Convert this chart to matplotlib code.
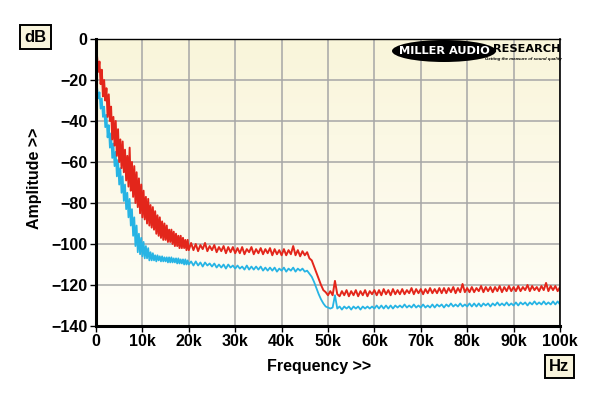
import numpy as np
import matplotlib
matplotlib.use("Agg")
import matplotlib.pyplot as plt
from matplotlib.patches import Ellipse

# ---------------- data (kHz, dB) ----------------
freq_lo = np.arange(1, 81) * 0.25          # 0.25 .. 20 kHz
freq_hi = 20 + np.arange(1, 161) * 0.5     # 20.5 .. 100 kHz

red_lo = [-9, -16, -11, -22, -15, -28, -20, -30, -24, -38,
          -27, -40, -33, -49, -38, -52, -40, -57, -44, -60,
          -49, -63, -50, -65, -54, -69, -57, -72, -53, -74,
          -60, -77, -62, -80, -65, -82, -68, -85, -71, -87,
          -74, -88, -77, -90, -78, -91, -81, -92, -82, -93,
          -84, -95, -86, -96, -87, -97, -89, -98, -90, -98,
          -91, -99, -93, -99, -93, -100, -94, -101, -95, -101,
          -96, -102, -96, -102, -97, -102, -98, -103, -98, -103]
red_hi = [-99.5, -103, -100, -103.5, -100.5, -102.5, -99.5, -103.5, -101, -103,
          -100.5, -104, -101.5, -103.5, -101, -104.5, -101.5, -104, -101.5, -104.5,
          -102, -104.5, -101.5, -105, -102.5, -104, -101.5, -105, -102.5, -104.5,
          -102, -105, -102.5, -104.5, -102, -105.5, -102.5, -105, -103, -105.5,
          -102.5, -105.5, -103, -105, -101, -105.5, -103, -106, -103.5, -105.5,
          -104, -107, -108, -111, -114, -117, -120, -122.5, -123.5, -125,
          -123, -125, -118, -124.5, -125.5, -123, -125, -122.5, -125.5, -123,
          -125, -122.5, -125.5, -123, -125, -122.5, -125.5, -123, -124.5, -122.5,
          -125, -122.5, -125, -122, -124.5, -122.5, -125, -122, -124.5, -122.5,
          -124.5, -122, -124.5, -122.5, -124, -121.5, -124.5, -122, -124, -122,
          -124.5, -122, -124, -121.5, -124, -122, -124, -121.5, -124, -121.5,
          -124, -121.5, -123.5, -121, -124, -121.5, -123.5, -119.5, -123.5, -121.5,
          -123.5, -121, -123.5, -121.5, -123, -120.5, -123.5, -121, -123, -121,
          -123.5, -121, -123, -120.5, -123.5, -121, -123, -120.5, -123, -121,
          -123, -120.5, -123, -121, -122.5, -120, -123, -120.5, -122.5, -121,
          -123, -120.5, -122.5, -119, -123, -120.5, -122.5, -120.5, -123, -121]

cyan_lo = [-24, -29, -26, -34, -29, -38, -33, -43, -37, -48,
           -42, -53, -46, -58, -51, -62, -55, -67, -59, -71,
           -63, -75, -67, -79, -71, -83, -75, -87, -78, -91,
           -83, -96, -87, -101, -91, -104, -95, -105, -97, -106,
           -99, -107, -101, -107, -102, -108, -104, -108, -104.5, -108,
           -105.5, -108.5, -105.5, -108, -106, -108.5, -106, -108.5, -106.5, -108.5,
           -106.5, -109, -106.5, -109, -106.5, -109, -107, -109, -107, -109.5,
           -107, -109.5, -107.5, -109.5, -107.5, -110, -107.5, -110, -108, -110]
cyan_hi = [-108.5, -110.5, -108.5, -110.5, -109, -111, -109, -110.5, -109.5, -111,
           -109.5, -111.5, -110, -111.5, -110, -112, -110, -111.5, -110.5, -112,
           -110.5, -112, -111, -112.5, -110.5, -112.5, -111, -112.5, -111, -112.5,
           -111, -113, -111.5, -113, -111.5, -113, -111.5, -113.5, -112, -113,
           -111.5, -113.5, -112, -113, -111.5, -113.5, -112, -113, -112, -113.5,
           -113, -114.5, -116, -118.5, -121.5, -124.5, -127, -129, -130.5, -131,
           -131.5, -131, -125, -131.5, -130.5, -132, -130.5, -131.5, -130.5, -132,
           -130.5, -131.5, -130.5, -132, -130.5, -131.5, -130.5, -131.5, -130.5, -131.5,
           -130, -131.5, -130, -131.5, -130, -131.5, -130, -131.5, -130, -131,
           -130, -131, -129.5, -131, -130, -131, -129.5, -131, -130, -131,
           -129.5, -131, -130, -131, -129.5, -131, -129.5, -130.5, -129.5, -131,
           -129.5, -130.5, -129, -130.5, -129.5, -130.5, -129, -130.5, -129.5, -130.5,
           -129, -130.5, -129, -130.5, -129, -130.5, -129, -130, -129, -130.5,
           -129, -130, -128.5, -130, -129, -130, -128.5, -130, -129, -130,
           -128.5, -130, -128.5, -129.5, -128.5, -130, -128.5, -129.5, -128, -129.5,
           -128.5, -129.5, -128, -129.5, -128.5, -129.5, -128, -129.5, -128, -129.5]

x_ticks = [0, 10, 20, 30, 40, 50, 60, 70, 80, 90, 100]
x_labels = ["0", "10k", "20k", "30k", "40k", "50k", "60k", "70k", "80k", "90k", "100k"]
y_ticks = [0, -20, -40, -60, -80, -100, -120, -140]

# ---------------- figure ----------------
plt.rcParams['font.family'] = ['Liberation Sans', 'DejaVu Sans']
fig = plt.figure(figsize=(6.0, 3.96), dpi=100)
fig.patch.set_facecolor('white')
ax = fig.add_axes([0.16, 0.1768, 0.7733, 0.7247])

# gradient background
grad = np.linspace(0, 1, 256).reshape(-1, 1)
top = np.array([249, 245, 218]) / 255.0
bot = np.array([255, 254, 248]) / 255.0
img = top[None, None, :] * (1 - grad[:, :, None]) + bot[None, None, :] * grad[:, :, None]
ax.imshow(img, extent=[0, 1, 0, 1], transform=ax.transAxes, aspect='auto', zorder=0)

freq = np.concatenate([freq_lo, freq_hi])
red = np.concatenate([red_lo, red_hi])
cyan = np.concatenate([cyan_lo, cyan_hi])

ax.plot(freq, cyan, color='#27b4e4', lw=1.3, zorder=3)
ax.plot(freq, red, color='#e3261b', lw=1.4, zorder=4)

ax.set_xlim(0, 100)
ax.set_ylim(-140, 0)
ax.set_xticks(x_ticks)
ax.set_xticklabels(x_labels)
ax.set_yticks(y_ticks)
ax.grid(True, color='#a6a6a6', lw=1.1, zorder=1)
ax.set_axisbelow(True)

for lab in ax.get_xticklabels() + ax.get_yticklabels():
    lab.set_fontweight('bold')
    lab.set_fontsize(11.5)
ax.tick_params(axis='both', direction='out', length=4, width=1, color='black', pad=2)

ax.spines['left'].set_linewidth(2.2)
ax.spines['bottom'].set_linewidth(2.2)
ax.spines['top'].set_linewidth(1.0)
ax.spines['right'].set_linewidth(1.2)
for s in ax.spines.values():
    s.set_color('black')
    s.set_zorder(5)

fig.text(35 / 600, 1 - 178 / 396, "Amplitude >>", rotation=90, ha='center', va='center',
         fontsize=11.5, fontweight='bold')
fig.text(319 / 600, 1 - 366 / 396, "Frequency >>", ha='center', va='center',
         fontsize=11.5, fontweight='bold')

box = dict(boxstyle='square,pad=0.25', facecolor='#f8f4dc', edgecolor='black', lw=1.4)
fig.text(35.5 / 600, 1 - 37 / 396, "dB", ha='center', va='center', fontsize=12,
         fontweight='bold', bbox=box)
fig.text(559.5 / 600, 1 - 366.5 / 396, "Hz", ha='center', va='center', fontsize=12,
         fontweight='bold', bbox=box)

# logo
ell = Ellipse((444 / 600, 1 - 51 / 396), 104 / 600, 22 / 396, transform=fig.transFigure,
              facecolor='black', edgecolor='none', zorder=6)
fig.patches.append(ell)
fig.text(444 / 600, 1 - 50.5 / 396, "MILLER AUDIO", ha='center', va='center', color='white',
         fontsize=8.2, fontweight='heavy', family='DejaVu Sans', zorder=7)
fig.text(527 / 600, 1 - 49 / 396, "RESEARCH", ha='center', va='center', color='black',
         fontsize=8.2, fontweight='heavy', family='DejaVu Sans', zorder=7)
fig.text(523 / 600, 1 - 59 / 396, "Getting the measure of sound quality", ha='center',
         va='center', color='black', fontsize=3.2, fontweight='bold', style='italic', zorder=7)

fig.savefig("out.png", dpi=100)
